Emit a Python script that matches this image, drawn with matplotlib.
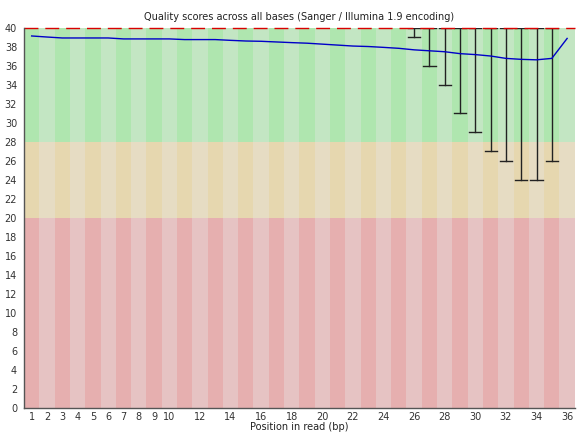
import numpy as np
import matplotlib
matplotlib.use("Agg")
import matplotlib.pyplot as plt
from matplotlib.patches import Rectangle

positions = list(range(1, 37))
mean_q = [39.16, 39.05, 38.95, 38.95, 38.95, 38.95, 38.85, 38.85, 38.85, 38.85,
          38.78, 38.78, 38.78, 38.7, 38.63, 38.6, 38.53, 38.46, 38.4, 38.3,
          38.2, 38.1, 38.05, 37.96, 37.86, 37.7, 37.6, 37.5, 37.3, 37.2,
          37.05, 36.8, 36.7, 36.65, 36.8, 38.9]
upper_q = [40] * 36
lower_q = [40] * 25 + [39, 36, 34, 31, 29, 27, 26, 24, 24, 26, 40]
xtick_labels = [str(i) for i in range(1, 11)] + [str(i) for i in range(12, 37, 2)]
ytick_labels = [str(i) for i in range(0, 41, 2)]

good = [(195/255, 230/255, 195/255), (175/255, 230/255, 175/255)]
ok = [(230/255, 220/255, 195/255), (230/255, 215/255, 175/255)]
bad = [(230/255, 195/255, 195/255), (230/255, 175/255, 175/255)]

fig = plt.figure(figsize=(5.8, 4.34), dpi=100)
ax = fig.add_axes([0.0414, 0.0599, 0.9496, 0.8756])

# background bands: alternate shading per base position
for i, p in enumerate(positions):
    k = 1 if i % 2 == 0 else 0
    ax.add_patch(Rectangle((p - 0.5, 28), 1, 12, color=good[k], lw=0))
    ax.add_patch(Rectangle((p - 0.5, 20), 1, 8, color=ok[k], lw=0))
    ax.add_patch(Rectangle((p - 0.5, 0), 1, 20, color=bad[k], lw=0))

# whiskers (10th - 90th percentile)
for p, lo, hi in zip(positions, lower_q, upper_q):
    if lo == hi:
        continue
    ax.plot([p, p], [lo, hi], color="#222222", lw=1)
    ax.plot([p - 0.4, p + 0.4], [lo, lo], color="#222222", lw=1)
    ax.plot([p - 0.4, p + 0.4], [hi, hi], color="#222222", lw=1)

ax.plot(positions, mean_q, color=(0, 0, 200/255), lw=1)
ax.axhline(40, color=(0.85, 0, 0), lw=1, dashes=(10, 5), clip_on=False)

ax.set_xlim(0.5, 36.5)
ax.set_ylim(0, 40)
xt = [int(s) for s in xtick_labels]
ax.set_xticks(xt)
ax.set_xticklabels(xtick_labels)
ax.set_yticks([int(s) for s in ytick_labels])
ax.set_yticklabels(ytick_labels)
ax.tick_params(length=0, labelsize=7, colors="#333333")
ax.tick_params(axis="x", pad=3)
ax.tick_params(axis="y", pad=5)
for s in ["top", "right"]:
    ax.spines[s].set_visible(False)
for s in ["left", "bottom"]:
    ax.spines[s].set_color("#555555")
    ax.spines[s].set_linewidth(1)

ax.set_title("Quality scores across all bases (Sanger / Illumina 1.9 encoding)",
             fontsize=7, color="#222222", pad=6)
ax.set_xlabel("Position in read (bp)", fontsize=7, color="#222222", labelpad=0)

fig.savefig("out.png", dpi=100)
